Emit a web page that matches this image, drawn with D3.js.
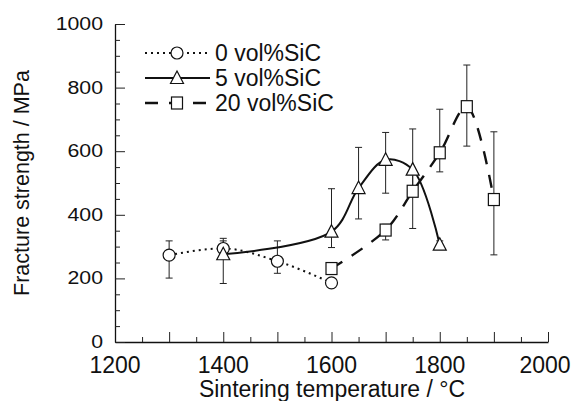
<!DOCTYPE html>
<html>
<head>
<meta charset="utf-8">
<script src="https://cdn.jsdelivr.net/npm/d3@7"></script>
<style>
  body { margin: 0; background: #fff; }
  text { font-family: "Liberation Sans", Arial, sans-serif; fill: #111; }
</style>
</head>
<body>
<div id="chart"></div>
<script>
// data
var temp_0 = [1300, 1400, 1500, 1600];
var val_0 = [273, 294, 254, 186];
var lo_0 = [201, 280, 216, 180];
var hi_0 = [318, 326, 318, 192];

var temp_5 = [1400, 1600, 1650, 1700, 1750, 1800];
var val_5 = [276, 347, 484, 573, 542, 306];
var lo_5 = [184, 297, 387, 468, 460, 300];
var hi_5 = [318, 482, 612, 659, 670, 318];

var temp_20 = [1600, 1700, 1750, 1800, 1850, 1900];
var val_20 = [231, 352, 474, 595, 740, 448];
var lo_20 = [215, 321, 357, 535, 616, 274];
var hi_20 = [245, 370, 530, 732, 871, 661];

var legend_labels = ["0 vol%SiC", "5 vol%SiC", "20 vol%SiC"];
var x_ticks = [1200, 1400, 1600, 1800, 2000];
var y_ticks = [0, 200, 400, 600, 800, 1000];

function rows(t, v, lo, hi) {
  return t.map(function(d, i) { return {t: d, v: v[i], lo: lo[i], hi: hi[i]}; });
}
var series = [
  {name: legend_labels[0], data: rows(temp_0, val_0, lo_0, hi_0), dash: "2,4", width: 2, marker: "circle", curve: d3.curveMonotoneX},
  {name: legend_labels[1], data: rows(temp_5, val_5, lo_5, hi_5), dash: null, width: 2, marker: "triangle", curve: d3.curveCatmullRom.alpha(0.5)},
  {name: legend_labels[2], data: rows(temp_20, val_20, lo_20, hi_20), dash: "13,11", width: 2.4, marker: "square", curve: d3.curveCatmullRom.alpha(0.5)}
];

var width = 576, height = 401;
var svg = d3.select("#chart").append("svg")
  .attr("width", width)
  .attr("height", height);

var x = d3.scaleLinear().domain([1200, 2000]).range([115, 548]);
var y = d3.scaleLinear().domain([0, 1000]).range([342, 24]);

// axes (ticks pointing inward)
var xAxis = svg.append("g").attr("transform", "translate(0," + y(0) + ")");
xAxis.call(d3.axisBottom(x).tickValues(d3.range(1200, 2001, 50)).tickSize(0).tickFormat(""));
xAxis.select(".domain").attr("stroke", "#111").attr("stroke-width", 1.3);
xAxis.selectAll(".tick line")
  .attr("y2", function(d) { return d % 100 === 0 ? -10 : -5; })
  .attr("stroke", "#222");
svg.append("g").selectAll("text").data(x_ticks).enter().append("text")
  .attr("x", function(d) { return d === 2000 ? x(d) - 3 : x(d); })
  .attr("y", 373)
  .attr("text-anchor", "middle")
  .style("font-size", "23px")
  .text(function(d) { return d; });

var yAxis = svg.append("g").attr("transform", "translate(" + x(1200) + ",0)");
yAxis.call(d3.axisLeft(y).tickValues(d3.range(0, 1001, 50)).tickSize(0).tickFormat(""));
yAxis.select(".domain").attr("stroke", "#111").attr("stroke-width", 1.3);
yAxis.selectAll(".tick line")
  .attr("x2", function(d) { return d % 200 === 0 ? 10 : 5; })
  .attr("stroke", "#222");
svg.append("g").selectAll("text").data(y_ticks).enter().append("text")
  .attr("transform", function(d) { return "translate(103," + (y(d) + 6) + ") scale(1.12,1)"; })
  .attr("text-anchor", "end")
  .style("font-size", "19px")
  .text(function(d) { return d; });

// axis titles
svg.append("text")
  .attr("x", 332)
  .attr("y", 397)
  .attr("text-anchor", "middle")
  .style("font-size", "23px")
  .text("Sintering temperature / °C");
svg.append("text")
  .attr("transform", "translate(29,183) rotate(-90)")
  .attr("text-anchor", "middle")
  .style("font-size", "21.5px")
  .text("Fracture strength / MPa");

// marker shapes
function marker(g, type) {
  if (type === "circle") {
    g.append("circle").attr("r", 6);
  } else if (type === "triangle") {
    g.append("path").attr("d", "M0,-7L6.5,5.5L-6.5,5.5Z");
  } else {
    g.append("rect").attr("x", -5.5).attr("y", -6).attr("width", 11).attr("height", 12);
  }
  g.selectAll("*").attr("fill", "#fff").attr("stroke", "#111").attr("stroke-width", 1.2);
}

// error bars
series.forEach(function(s) {
  var eb = svg.append("g").selectAll("g").data(s.data).enter().append("g");
  eb.append("line")
    .attr("x1", function(d) { return x(d.t); }).attr("x2", function(d) { return x(d.t); })
    .attr("y1", function(d) { return y(d.lo); }).attr("y2", function(d) { return y(d.hi); })
    .attr("stroke", "#222").attr("stroke-width", 1);
  ["lo", "hi"].forEach(function(k) {
    eb.append("line")
      .attr("x1", function(d) { return x(d.t) - 3.5; }).attr("x2", function(d) { return x(d.t) + 3.5; })
      .attr("y1", function(d) { return y(d[k]); }).attr("y2", function(d) { return y(d[k]); })
      .attr("stroke", "#222").attr("stroke-width", 1);
  });
});

// lines
series.forEach(function(s) {
  svg.append("path")
    .datum(s.data)
    .attr("fill", "none")
    .attr("stroke", "#111")
    .attr("stroke-width", s.width)
    .attr("stroke-dasharray", s.dash)
    .attr("d", d3.line().curve(s.curve)
      .x(function(d) { return x(d.t); })
      .y(function(d) { return y(d.v); }));
});

// markers
series.forEach(function(s) {
  svg.append("g").selectAll("g").data(s.data).enter().append("g")
    .attr("transform", function(d) { return "translate(" + x(d.t) + "," + y(d.v) + ")"; })
    .each(function() { marker(d3.select(this), s.marker); });
});

// legend
var legend = svg.append("g");
series.forEach(function(s, i) {
  var ly = 53 + i * 25;
  legend.append("line")
    .attr("x1", 145).attr("x2", 210)
    .attr("y1", ly).attr("y2", ly)
    .attr("stroke", "#111")
    .attr("stroke-width", s.width)
    .attr("stroke-dasharray", s.dash);
  var m = legend.append("g").attr("transform", "translate(177," + ly + ")");
  marker(m, s.marker);
  legend.append("text")
    .attr("x", 215)
    .attr("y", ly + 8)
    .style("font-size", "23px")
    .text(s.name);
});
</script>
</body>
</html>
